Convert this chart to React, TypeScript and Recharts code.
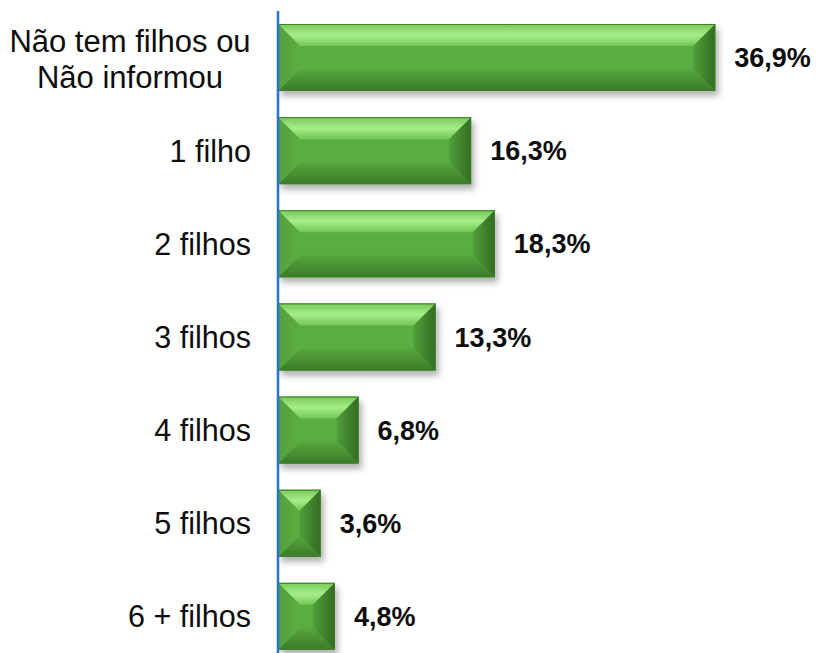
import React from 'react';
import { BarChart, Bar, XAxis, YAxis, LabelList } from 'recharts';

const categories = ['Não tem filhos ou\nNão informou', '1 filho', '2 filhos', '3 filhos', '4 filhos', '5 filhos', '6 + filhos'];
const percentages = [36.9, 16.3, 18.3, 13.3, 6.8, 3.6, 4.8];

const data = categories.map((name, i) => ({ name, value: percentages[i] }));

const FONT = '"Liberation Sans", Arial, sans-serif';

const BevelBar = (props: any) => {
  const { x, y, width, height } = props;
  if (!width || width <= 0) return null;
  const b = Math.min(22, width / 2, height / 2);
  const r = x + width;
  const btm = y + height;
  return (
    <g filter="url(#barShadow)">
      <rect x={x} y={y} width={width} height={height} fill="#5aad40" />
      <polygon points={`${x},${y} ${r},${y} ${r - b},${y + b} ${x + b},${y + b}`} fill="url(#topBevel)" />
      <polygon points={`${x},${btm} ${r},${btm} ${r - b},${btm - b} ${x + b},${btm - b}`} fill="url(#bottomBevel)" />
      <polygon points={`${x},${y} ${x + b},${y + b} ${x + b},${btm - b} ${x},${btm}`} fill="url(#leftBevel)" />
      <polygon points={`${r},${y} ${r - b},${y + b} ${r - b},${btm - b} ${r},${btm}`} fill="url(#rightBevel)" />
      <rect x={x + 0.5} y={y + 0.5} width={width - 1} height={height - 1} fill="none" stroke="#3f7f2c" strokeWidth={1} />
    </g>
  );
};

const CategoryTick = (props: any) => {
  const { x, y, payload } = props;
  const lines = String(payload.value).split('\n');
  if (lines.length > 1) {
    return (
      <text x={x - 121} y={y} textAnchor="middle" fill="#0d0d0d" fontSize={31} fontFamily={FONT}>
        <tspan x={x - 121} dy={-6}>{lines[0]}</tspan>
        <tspan x={x - 121} dy={36}>{lines[1]}</tspan>
      </text>
    );
  }
  return (
    <text x={x} y={y} dy={11} textAnchor="end" fill="#0d0d0d" fontSize={30.5} fontFamily={FONT}>
      {lines[0]}
    </text>
  );
};

export default function App() {
  return (
    <div style={{ position: 'fixed', left: 0, top: 0, width: 818, height: 653, overflow: 'hidden', background: '#fff' }}>
      <BarChart
        width={818}
        height={680}
        data={data}
        layout="vertical"
        margin={{ top: 11, right: 66, bottom: 17, left: 0 }}
      >
        <defs>
          <filter id="barShadow" x="-10%" y="-20%" width="130%" height="150%">
            <feDropShadow dx={3} dy={5} stdDeviation={3} floodColor="#000" floodOpacity={0.3} />
          </filter>
          <linearGradient id="topBevel" x1="0" y1="0" x2="0" y2="1">
            <stop offset="0%" stopColor="#78c95a" />
            <stop offset="50%" stopColor="#a6ee8a" />
            <stop offset="100%" stopColor="#72c655" />
          </linearGradient>
          <linearGradient id="bottomBevel" x1="0" y1="0" x2="0" y2="1">
            <stop offset="0%" stopColor="#58a83f" />
            <stop offset="100%" stopColor="#3a7a28" />
          </linearGradient>
          <linearGradient id="leftBevel" x1="0" y1="0" x2="1" y2="0">
            <stop offset="0%" stopColor="#52a03a" />
            <stop offset="100%" stopColor="#5cad42" />
          </linearGradient>
          <linearGradient id="rightBevel" x1="0" y1="0" x2="1" y2="0">
            <stop offset="0%" stopColor="#509f39" />
            <stop offset="100%" stopColor="#336b23" />
          </linearGradient>
        </defs>
        <XAxis type="number" domain={[0, 40]} hide />
        <YAxis
          type="category"
          dataKey="name"
          width={278}
          tick={<CategoryTick />}
          tickLine={false}
          tickSize={0}
          tickMargin={27}
          axisLine={{ stroke: '#2a72cc', strokeWidth: 2.5 }}
          interval={0}
        />
        <Bar dataKey="value" barSize={67} shape={<BevelBar />} isAnimationActive={false}>
          <LabelList
            dataKey="value"
            position="right"
            offset={19}
            formatter={(v: any) => `${Number(v).toFixed(1).replace('.', ',')}%`}
            style={{ fontSize: 27, fontWeight: 'bold', fill: '#0d0d0d', fontFamily: FONT }}
          />
        </Bar>
      </BarChart>
    </div>
  );
}
